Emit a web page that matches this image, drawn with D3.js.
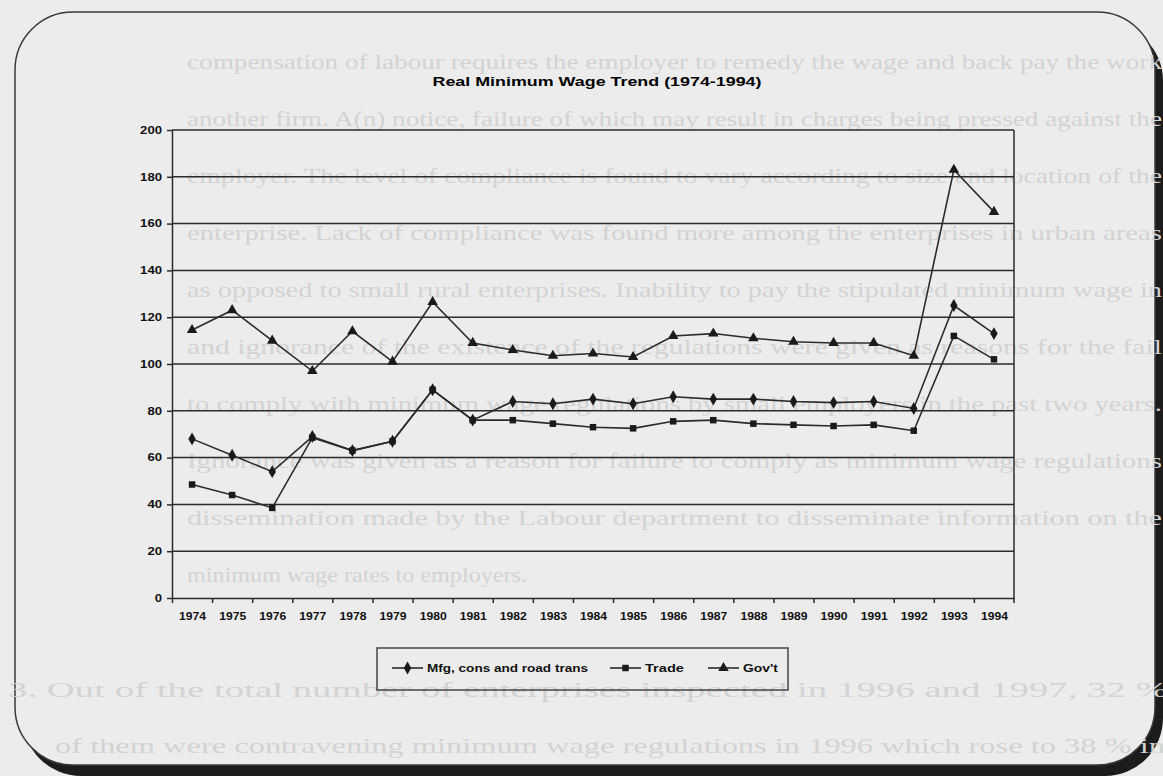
<!DOCTYPE html>
<html>
<head>
<meta charset="utf-8">
<script src="https://cdn.jsdelivr.net/npm/d3@7"></script>
<style>
  body { margin: 0; background: #ececec; }
  svg { display: block; }
</style>
</head>
<body>
<div id="app"></div>
<script>
// data
const years = ['1974','1975','1976','1977','1978','1979','1980','1981','1982','1983','1984',
  '1985','1986','1987','1988','1989','1990','1991','1992','1993','1994']
const mfg = [68, 61, 54, 69, 63, 67, 89, 76, 84, 83, 85, 83, 86, 85, 85, 84, 83.5, 84, 81, 125, 113]
const trade = [48.5, 44, 38.5, 68.5, 63, 67, 89, 76, 76, 74.5, 73, 72.5, 75.5, 76, 74.5, 74, 73.5, 74, 71.5, 112, 102]
const govt = [114.5, 123, 110, 97, 114, 101, 126.5, 109, 106, 103.5, 104.5, 103, 112, 113, 111, 109.5, 109, 109, 103.5, 183, 165]
const seriesNames = ['Mfg, cons and road trans', 'Trade', "Gov't"]
const yTicks = [0, 20, 40, 60, 80, 100, 120, 140, 160, 180, 200]
const title = 'Real Minimum Wage Trend (1974-1994)'

// faint text showing through the page
const pageText = [
  'compensation of labour requires the employer to remedy the wage and back pay the work',
  'another firm. A(n) notice, failure of which may result in charges being pressed against the',
  'employer. The level of compliance is found to vary according to size and location of the',
  'enterprise. Lack of compliance was found more among the enterprises in urban areas',
  'as opposed to small rural enterprises. Inability to pay the stipulated minimum wage in',
  'and ignorance of the existence of the regulations were given as reasons for the fail',
  'to comply with minimum wage regulations by small employers in the past two years.',
  'Ignorance was given as a reason for failure to comply as minimum wage regulations',
  'dissemination made by the Labour department to disseminate information on the',
  'minimum wage rates to employers.'
]
const pageText2 = [
  '3.  Out of the total number of enterprises inspected in 1996 and 1997, 32 %',
  'of them were contravening minimum wage regulations in 1996 which rose to 38 % in'
]

const W = 1163, H = 776
const svg = d3.select('#app').append('svg').attr('width', W).attr('height', H)
const ink = '#2b2b2b'

// page frame with heavy shadow
svg.append('rect').attr('x', 23).attr('y', 23).attr('width', 1140).attr('height', 753)
  .attr('rx', 58).attr('fill', '#1c1c1c')
svg.append('rect').attr('x', 15).attr('y', 12).attr('width', 1140).attr('height', 753)
  .attr('rx', 58).attr('fill', '#ececec').attr('stroke', '#3a3a3a').attr('stroke-width', 1.5)

const bg = svg.append('g').attr('fill', '#d3d3d3')
  .style('font-family', '"Liberation Serif", "Times New Roman", serif').style('font-size', '22px')
pageText.forEach((t, i) => {
  bg.append('text').attr('x', 187).attr('y', 69 + i * 57).text(t)
    .attr('textLength', i == 9 ? 340 : 975).attr('lengthAdjust', 'spacingAndGlyphs')
})
pageText2.forEach((t, i) => {
  bg.append('text').attr('x', 8 + (i ? 47 : 0)).attr('y', 697 + i * 56).text(t)
    .attr('textLength', i ? 1110 : 1160).attr('lengthAdjust', 'spacingAndGlyphs')
})

// plot
const pLeft = 172, pRight = 1014, pTop = 130, pBottom = 598
const x = d3.scalePoint().domain(years).range([pLeft, pRight]).padding(0.5)
const xb = d3.scaleBand().domain(years).range([pLeft, pRight])
const y = d3.scaleLinear().domain([0, 200]).range([pBottom, pTop])

const g = svg.append('g')

g.selectAll('line.grid').data(yTicks.filter(d => d > 0)).enter().append('line')
  .attr('class', 'grid')
  .attr('x1', pLeft).attr('x2', pRight)
  .attr('y1', d => y(d)).attr('y2', d => y(d))
  .attr('stroke', ink).attr('stroke-width', 1.5)
g.append('line').attr('x1', pRight).attr('x2', pRight).attr('y1', pTop).attr('y2', pBottom)
  .attr('stroke', ink).attr('stroke-width', 1.5)

const yAxis = g.append('g').attr('transform', `translate(${pLeft},0)`)
  .call(d3.axisLeft(y).tickValues(yTicks).tickSize(5).tickPadding(5).tickSizeOuter(0))
const xAxis = g.append('g').attr('transform', `translate(0,${pBottom})`)
  .call(d3.axisBottom(x).tickSize(0).tickPadding(15))
xAxis.selectAll('.tick').append('line')
  .attr('x1', -xb.bandwidth() / 2).attr('x2', -xb.bandwidth() / 2).attr('y2', 5)
xAxis.append('line').attr('x1', pRight).attr('x2', pRight).attr('y2', 5)

for (const ax of [yAxis, xAxis]) {
  ax.select('.domain').attr('stroke', ink).attr('stroke-width', 1.5)
  ax.selectAll('line').attr('stroke', ink).attr('stroke-width', 1.5)
  ax.selectAll('text').attr('fill', '#111')
    .style('font-family', '"Liberation Sans", Arial, sans-serif')
    .style('font-weight', 'bold').style('font-size', '10px')
    .attr('lengthAdjust', 'spacingAndGlyphs')
}
yAxis.selectAll('text').attr('textLength', d => String(d).length * 7.3)
xAxis.selectAll('text').attr('textLength', 27)

const symbols = [d3.symbolDiamond, d3.symbolSquare, d3.symbolTriangle]
const sizes = [48, 42, 48]
const series = [mfg, trade, govt]
const line = d3.line().x((d, i) => x(years[i])).y(d => y(d))

series.forEach((vals, k) => {
  g.append('path').datum(vals).attr('d', line)
    .attr('fill', 'none').attr('stroke', ink).attr('stroke-width', 1.6)
  g.selectAll('path.m' + k).data(vals).enter().append('path')
    .attr('class', 'm' + k)
    .attr('transform', (d, i) => `translate(${x(years[i])},${y(d)})`)
    .attr('d', d3.symbol().type(symbols[k]).size(sizes[k]))
    .attr('fill', '#1a1a1a')
})

// title
svg.append('text').attr('x', 597).attr('y', 86).attr('text-anchor', 'middle')
  .attr('textLength', 329).attr('lengthAdjust', 'spacingAndGlyphs')
  .style('font-family', '"Liberation Sans", Arial, sans-serif')
  .style('font-weight', 'bold').style('font-size', '13px').attr('fill', '#000')
  .text(title)

// legend
const lg = svg.append('g')
lg.append('rect').attr('x', 377).attr('y', 648).attr('width', 411).attr('height', 42)
  .attr('fill', 'none').attr('stroke', '#444').attr('stroke-width', 1.5)
const legendX = [392, 610, 708]
const legendW = [161, 39, 35]
seriesNames.forEach((name, k) => {
  const it = lg.append('g').attr('transform', `translate(${legendX[k]},668)`)
  it.append('line').attr('x1', 0).attr('x2', 31).attr('stroke', ink).attr('stroke-width', 1.6)
  it.append('path').attr('transform', 'translate(15.5,0)')
    .attr('d', d3.symbol().type(symbols[k]).size(sizes[k])).attr('fill', '#1a1a1a')
  it.append('text').attr('x', 35).attr('dy', '0.35em').text(name)
    .attr('textLength', legendW[k]).attr('lengthAdjust', 'spacingAndGlyphs')
    .style('font-family', '"Liberation Sans", Arial, sans-serif')
    .style('font-weight', 'bold').style('font-size', '10px').attr('fill', '#111')
})
</script>
</body>
</html>
